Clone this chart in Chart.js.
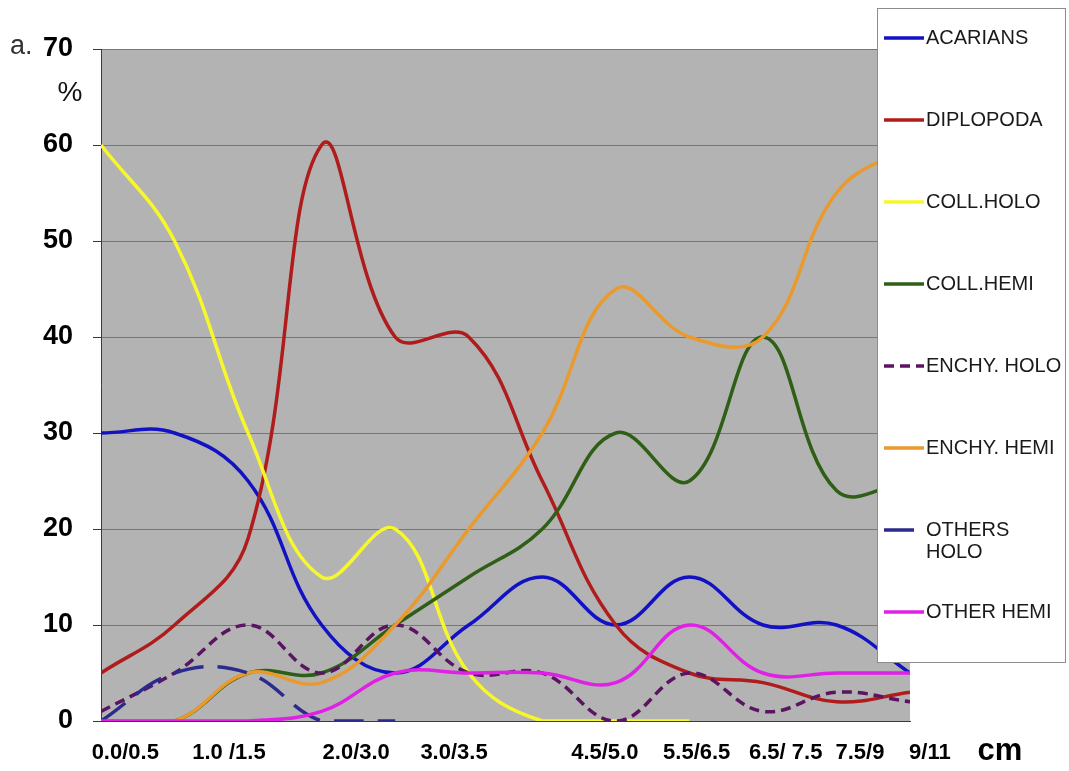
<!DOCTYPE html>
<html>
<head>
<meta charset="utf-8">
<script src="https://cdn.jsdelivr.net/npm/chart.js@4/dist/chart.umd.min.js"></script>
<style>
  html, body { margin: 0; padding: 0; background: #fff; }
  #wrap { position: relative; width: 1069px; height: 771px; font-family: "Liberation Sans", Arial, sans-serif; }
  #chart { position: absolute; left: 0; top: 0; }
  .note { position: absolute; line-height: 1; white-space: nowrap; }
  #legend { position: absolute; left: 877px; top: 8px; width: 187px; height: 653px;
            background: #fff; border: 1px solid #8c8c8c; }
  .item { position: absolute; left: 0; width: 187px; }
  .item svg { position: absolute; left: 5px; top: 9px; }
  .item span { position: absolute; left: 48px; width: 142px; font-size: 20px; line-height: 22px; color: #1a1a1a; }
</style>
</head>
<body>
<div id="wrap">
  <canvas id="chart" width="1069" height="771"></canvas>
  <div class="note" style="left:10px; top:32px; font-size:27px; color:#333;">a.</div>
  <div class="note" style="left:40px; top:78px; width:60px; text-align:center; font-size:28px; color:#111;">%</div>
  <div class="note" style="left:960px; top:734px; width:80px; text-align:center; font-size:31px; font-weight:bold; color:#000;">cm</div>
  <div id="legend"></div>
</div>
<script>
// 採取深度（横軸ラベル）とその位置
const depthLabels = ["0.0/0.5", "1.0 /1.5", "2.0/3.0", "3.0/3.5", "4.5/5.0", "5.5/6.5", "6.5/ 7.5", "7.5/9", "9/11"];
const depthTicks = [0.33, 1.74, 3.47, 4.80, 6.85, 8.10, 9.31, 10.32, 11.27];
const yTicks = [0, 10, 20, 30, 40, 50, 60, 70];

// 各グループの割合 (%)
const acarians   = [30, 30, 25, 10, 5, 10, 15, 10, 15, 10, 10, 5];
const diplopoda  = [5, 10, 19, 60, 40, 40, 25, 10, 5, 4, 2, 3];
const collHolo   = [60, 50, 30, 15, 20, 5, 0, 0, 0, null, null, null];
const collHemi   = [0, 0, 5, 5, 10, 15, 20, 30, 25, 40, 24, 25];
const enchyHolo  = [1, 5, 10, 5, 10, 5, 5, 0, 5, 1, 3, 2];
const enchyHemi  = [0, 0, 5, 4, 10, 20, 30, 45, 40, 40, 55, 60];
const othersHolo = [0, 5, 5, 0, 0, null, null, null, null, null, null, null];
const otherHemi  = [0, 0, 0, 1, 5, 5, 5, 4, 10, 5, 5, 5];

const series = [
  { label: "ACARIANS",     data: acarians,   color: "#1212c4", dash: [] },
  { label: "DIPLOPODA",    data: diplopoda,  color: "#b01c1c", dash: [] },
  { label: "COLL.HOLO",    data: collHolo,   color: "#f7f72a", dash: [] },
  { label: "COLL.HEMI",    data: collHemi,   color: "#2f5f16", dash: [] },
  { label: "ENCHY. HOLO",  data: enchyHolo,  color: "#5a1462", dash: [10, 6] },
  { label: "ENCHY. HEMI",  data: enchyHemi,  color: "#ea9a2c", dash: [] },
  { label: "OTHERS HOLO",  data: othersHolo, color: "#2b2b8e", dash: [30, 14] },
  { label: "OTHER HEMI",   data: otherHemi,  color: "#e020e6", dash: [] }
];

const n = series.length;
const datasets = series.map((s, i) => ({
  label: s.label,
  data: s.data.map((v, k) => ({ x: k, y: v })),
  borderColor: s.color,
  backgroundColor: s.color,
  borderWidth: 3.5,
  borderDash: s.dash,
  pointRadius: 0,
  tension: 0.4,
  spanGaps: false,
  fill: false,
  order: n - 1 - i   // 後の系列を上に描く（Excel と同じ）
}));

const plotBg = {
  id: "plotBg",
  beforeDraw(chart) {
    const a = chart.chartArea;
    const ctx = chart.ctx;
    ctx.save();
    ctx.fillStyle = "#b3b3b3";
    ctx.fillRect(a.left, a.top, a.right - a.left, a.bottom - a.top);
    ctx.restore();
  }
};

new Chart(document.getElementById("chart").getContext("2d"), {
  type: "line",
  data: { datasets },
  plugins: [plotBg],
  options: {
    responsive: false,
    animation: false,
    layout: { padding: { left: 0, top: 49, right: 159, bottom: 0 } },
    plugins: { legend: { display: false }, tooltip: { enabled: false } },
    scales: {
      x: {
        type: "linear",
        min: 0,
        max: 11,
        afterBuildTicks: axis => { axis.ticks = depthTicks.map(v => ({ value: v })); },
        afterFit: axis => { axis.height = 50; },
        grid: { display: false, drawTicks: false },
        border: { display: true, color: "#3a3a3a", width: 1 },
        ticks: {
          autoSkip: false,
          maxRotation: 0,
          padding: 19,
          color: "#000",
          font: { family: "'Liberation Sans', Arial, sans-serif", size: 22, weight: "bold" },
          callback: (value, index) => depthLabels[index]
        }
      },
      y: {
        min: 0,
        max: 70,
        afterBuildTicks: axis => { axis.ticks = yTicks.map(v => ({ value: v })); },
        afterFit: axis => { axis.width = 101; },
        grid: { color: "#767676", lineWidth: 1, tickLength: 8, tickColor: "#3a3a3a" },
        border: { display: true, color: "#3a3a3a", width: 1 },
        ticks: {
          padding: 20,
          color: "#000",
          font: { family: "'Liberation Sans', Arial, sans-serif", size: 27, weight: "bold" }
        }
      }
    }
  }
});

// 凡例（グラフに重ねて表示）
const legend = document.getElementById("legend");
series.forEach((s, i) => {
  const item = document.createElement("div");
  item.className = "item";
  item.style.top = (37 + i * 82 - 8 - 12) + "px";
  const dash = s.dash.length ? ` stroke-dasharray="${s.dash.join(",")}"` : "";
  item.innerHTML =
    `<svg width="42" height="6"><line x1="1" y1="3" x2="41" y2="3" stroke="${s.color}" stroke-width="3.5"${dash}/></svg>` +
    `<span>${s.label}</span>`;
  legend.appendChild(item);
});
</script>
</body>
</html>
